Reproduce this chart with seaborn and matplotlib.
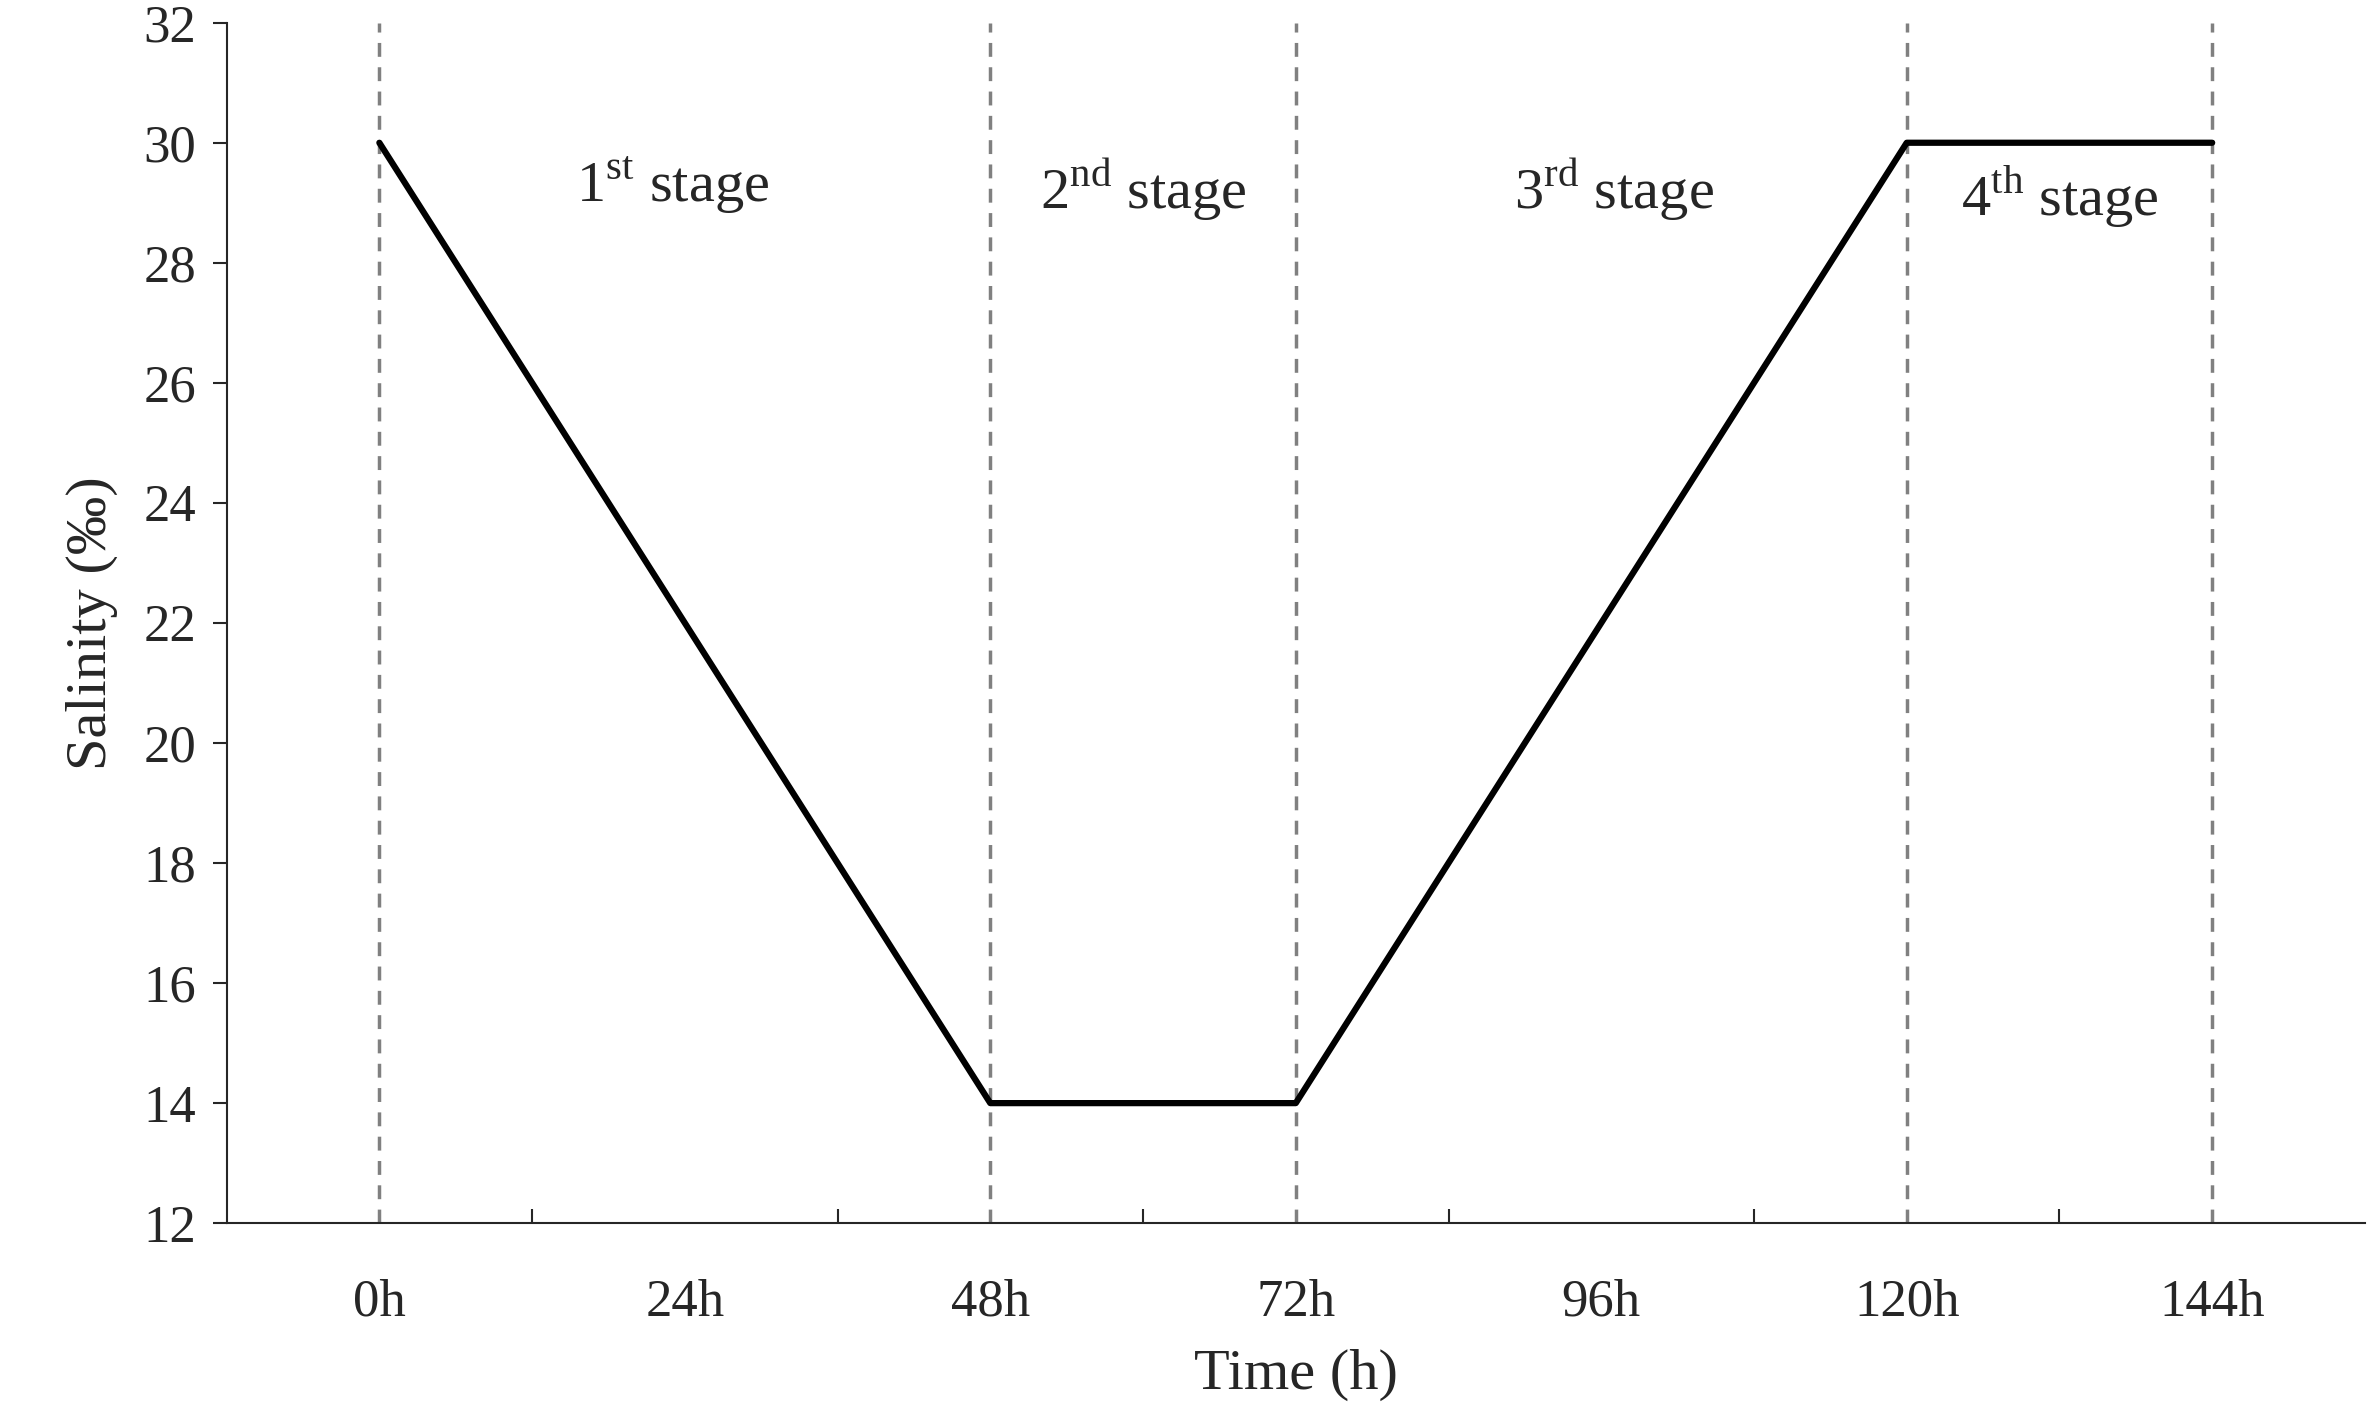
import matplotlib
matplotlib.use("Agg")
import matplotlib.pyplot as plt
import seaborn as sns
import pandas as pd

time_h = [0, 48, 72, 120, 144]
salinity = [30, 14, 14, 30, 30]
boundaries = [0, 48, 72, 120, 144]
tick_labels = ["0h", "24h", "48h", "72h", "96h", "120h", "144h"]
tick_pos = [0, 24, 48, 72, 96, 120, 144]
stage_labels = [r"1$^{\rm st}$ stage", r"2$^{\rm nd}$ stage", r"3$^{\rm rd}$ stage", r"4$^{\rm th}$ stage"]
stage_x = [23, 60, 97, 132]
stage_y = [29.3, 29.2, 29.2, 29.1]

sns.set_theme(style="ticks")
plt.rcParams["font.family"] = ["Liberation Serif", "DejaVu Serif"]
plt.rcParams["mathtext.fontset"] = "custom"
plt.rcParams["mathtext.rm"] = "Liberation Serif"

fig = plt.figure(figsize=(23.68, 14.19), dpi=100)
ax = fig.add_axes([0.0957, 0.138, 0.903, 0.846])
df = pd.DataFrame({"t": time_h, "s": salinity})
for b in boundaries:
    ax.axvline(b, color="#808080", ls=(0, (4, 3)), lw=2.5, zorder=1)
sns.lineplot(data=df, x="t", y="s", ax=ax, color="black", lw=4.5, zorder=3)
for lab, x, y in zip(stage_labels, stage_x, stage_y):
    ax.text(x, y, lab, ha="center", va="center", fontsize=42)

ax.set_xlim(-12, 156)
ax.set_ylim(12, 32)
ax.set_yticks(range(12, 33, 2))
ax.set_xticks(tick_pos)
ax.set_xticklabels(tick_labels)
ax.set_xticks([12, 36, 60, 84, 108, 132], minor=True)
ax.tick_params(axis="x", which="major", length=0, labelsize=38, pad=40)
ax.tick_params(axis="x", which="minor", direction="in", length=10, width=1.5)
ax.tick_params(axis="y", labelsize=38, length=10, width=1.5, pad=12)
ax.set_xlabel("Time (h)", fontsize=42, labelpad=16)
ax.set_ylabel("Salinity (‰)", fontsize=42, labelpad=18)
for s in ["top", "right"]:
    ax.spines[s].set_visible(False)
for s in ["left", "bottom"]:
    ax.spines[s].set_linewidth(1.5)
fig.savefig("out.png", dpi=100)
